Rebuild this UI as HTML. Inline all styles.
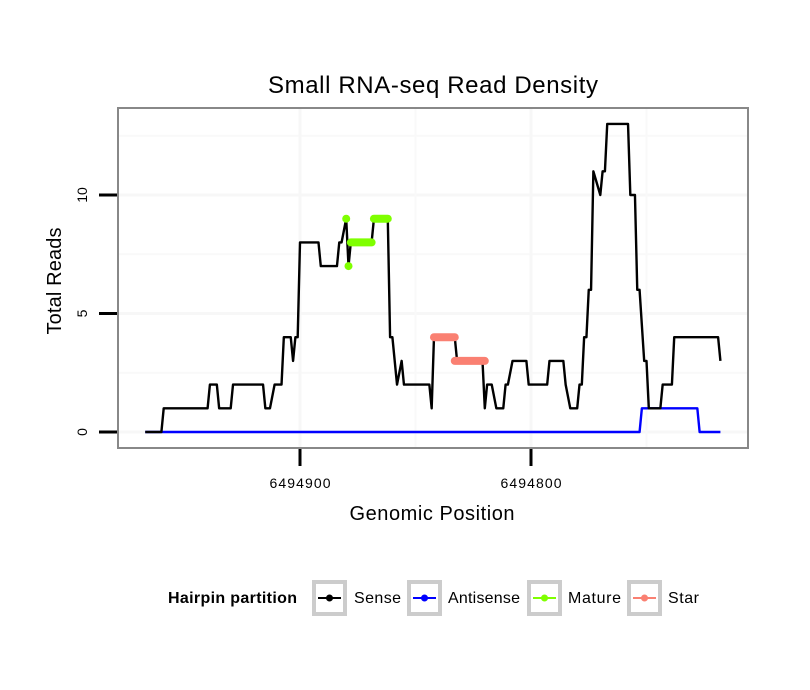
<!DOCTYPE html>
<html><head><meta charset="utf-8"><style>
body{margin:0;background:#fff;}
svg{display:block;font-family:"Liberation Sans",sans-serif;}
</style></head><body>
<svg id="chart" width="810" height="690" xmlns="http://www.w3.org/2000/svg">
<rect width="810" height="690" fill="#fff"/>
<text x="433" y="93" font-size="24" text-anchor="middle" textLength="330">Small RNA-seq Read Density</text>
<g id="grid"></g>
<g id="series"></g>
<rect x="118" y="108" width="630" height="340" fill="none" stroke="#888" stroke-width="2"/>
<g id="axes"></g>
<text x="432" y="520" font-size="20" text-anchor="middle" textLength="165">Genomic Position</text>
<text transform="translate(61,281) rotate(-90)" font-size="20" text-anchor="middle" textLength="107">Total Reads</text>
<g>
<text x="168" y="603" font-size="16" font-weight="bold" textLength="129">Hairpin partition</text>
<g><rect x="314" y="582" width="31" height="32" fill="#fff" stroke="#ccc" stroke-width="4"/><line x1="318" y1="598" x2="341" y2="598" stroke="#000" stroke-width="2"/><circle cx="329.5" cy="598" r="3.5" fill="#000"/><text x="354" y="603" font-size="16" textLength="47">Sense</text></g>
<g><rect x="409" y="582" width="31" height="32" fill="#fff" stroke="#ccc" stroke-width="4"/><line x1="413" y1="598" x2="436" y2="598" stroke="#00f" stroke-width="2"/><circle cx="424.5" cy="598" r="3.5" fill="#00f"/><text x="448" y="603" font-size="16" textLength="72">Antisense</text></g>
<g><rect x="529" y="582" width="31" height="32" fill="#fff" stroke="#ccc" stroke-width="4"/><line x1="533" y1="598" x2="556" y2="598" stroke="#7fff00" stroke-width="2"/><circle cx="544.5" cy="598" r="3.5" fill="#7fff00"/><text x="568" y="603" font-size="16" textLength="53">Mature</text></g>
<g><rect x="629" y="582" width="31" height="32" fill="#fff" stroke="#ccc" stroke-width="4"/><line x1="633" y1="598" x2="656" y2="598" stroke="#fa8072" stroke-width="2"/><circle cx="644.5" cy="598" r="3.5" fill="#fa8072"/><text x="668" y="603" font-size="16" textLength="31">Star</text></g>
</g>
</svg>
<script>
const senseX=[6494967,6494960,6494959,6494940,6494939,6494936,6494935,6494930,6494929,6494916,6494915,6494913,6494911,6494908,6494907,6494904,6494903,6494902,6494901,6494900,6494892,6494891,6494884,6494883,6494882,6494880,6494879,6494878,6494869,6494868,6494862,6494861,6494860,6494858,6494856,6494855,6494844,6494843,6494842,6494833,6494832,6494821,6494820,6494819,6494817,6494815,6494812,6494811,6494810,6494808,6494802,6494801,6494793,6494792,6494786,6494785,6494783,6494780,6494779,6494778,6494777,6494776,6494775,6494774,6494773,6494770,6494769,6494768,6494767,6494758,6494757,6494755,6494754,6494753,6494751,6494750,6494749,6494744,6494743,6494739,6494738,6494719,6494718];
const senseY=[0,0,1,1,2,2,1,1,2,2,1,1,2,2,4,4,3,4,4,8,8,7,7,8,8,9,7,8,8,9,9,4,4,2,3,2,2,1,4,4,3,3,1,2,2,1,1,2,2,3,3,2,2,3,3,2,1,1,2,2,4,4,6,6,11,10,11,11,13,13,10,10,6,6,3,3,1,1,2,2,4,4,3];
const antiX=[6494967,6494753,6494752,6494728,6494727,6494718];
const antiY=[0,0,1,1,0,0];
const matureStart=[6494880,6494879,6494878,6494868];
const matureEnd=[6494880,6494879,6494869,6494862];
const matureVal=[9,7,8,9];
const starStart=[6494842,6494833];
const starEnd=[6494833,6494820];
const starVal=[4,3];
const yTicks=[0,5,10];
const xTicks=[6494900,6494800];
const NS="http://www.w3.org/2000/svg";
function sx(p){return 300+(6494900-p)*2.31;}
function sy(v){return 432-v*23.7;}
function mk(tag,attrs,parent){const e=document.createElementNS(NS,tag);for(const k in attrs)e.setAttribute(k,attrs[k]);document.getElementById(parent).appendChild(e);return e;}
[2.5,7.5,12.5].forEach(v=>{const l=mk('line',{x1:119,x2:747,y1:sy(v),y2:sy(v),stroke:'#f9f9f9','stroke-width':2},'grid');

});
yTicks.forEach(v=>{const l=mk('line',{x1:119,x2:747,y1:sy(v),y2:sy(v),stroke:'#f7f7f7','stroke-width':3},'grid');

});
[6494850,6494750].forEach(p=>{const l=mk('line',{x1:sx(p),x2:sx(p),y1:109,y2:447,stroke:'#f9f9f9','stroke-width':2},'grid');

});
xTicks.forEach(p=>{const l=mk('line',{x1:sx(p),x2:sx(p),y1:109,y2:447,stroke:'#f7f7f7','stroke-width':3},'grid');

});
yTicks.forEach(v=>{const l=mk('line',{x1:99,x2:117,y1:sy(v),y2:sy(v),stroke:'#000','stroke-width':3},'axes');


const t=mk('text',{transform:`translate(87,${sy(v)}) rotate(-90)`,'font-size':14,'text-anchor':'middle'},'axes');t.textContent=v;

});
xTicks.forEach(p=>{const l=mk('line',{x1:sx(p),x2:sx(p),y1:449,y2:466,stroke:'#000','stroke-width':3},'axes');


const t=mk('text',{x:sx(p),y:488,'font-size':14,'text-anchor':'middle',textLength:61},'axes');t.textContent=p;

});
function line(xs,ys,color,name){const pts=xs.map((p,i)=>sx(p)+','+sy(ys[i])).join(' ');
const e=mk('polyline',{points:pts,fill:'none',stroke:color,'stroke-width':2.4,'stroke-linejoin':'round'},'series');

}
line(antiX,antiY,'#0000ff','antisense-line');
line(senseX,senseY,'#000','sense-line');
function dots(st,en,val,color,name){st.forEach((s,i)=>{const a=Math.max(s,en[i]),b=Math.min(s,en[i]);
const l=mk('line',{x1:sx(a),x2:sx(b),y1:sy(val[i]),y2:sy(val[i]),stroke:color,'stroke-width':8,'stroke-linecap':'round'},'series');

});}
dots(matureStart,matureEnd,matureVal,'#7fff00','mature-segment');
dots(starStart,starEnd,starVal,'#fa8072','star-segment');
</script>
</body></html>
